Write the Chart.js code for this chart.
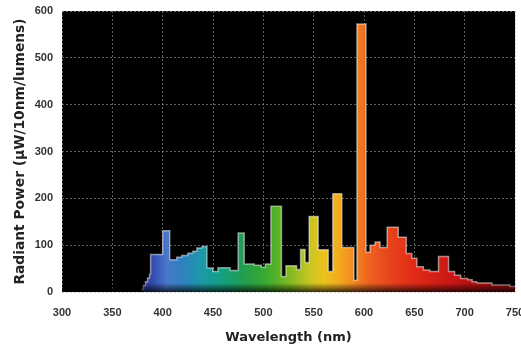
<!DOCTYPE html>
<html><head><meta charset="utf-8">
<script src="https://cdn.jsdelivr.net/npm/chart.js@4.4.1/dist/chart.umd.min.js"></script>
<style>html,body{margin:0;padding:0;background:#fff;}canvas{display:block;}</style>
</head><body>
<canvas id="c" width="521" height="345"></canvas>
<script>
// Step start wavelengths (nm) and radiant power for each step
const wavelengths = [379,381,383,385,387,388,400,407,414,419,425,430,434,439,444,450,455,467,475,481,491,498,502,507.5,518,522.5,533,537,541.5,545.5,554.5,564.5,569,578,590,593,602,606,611,616,623,634,642,647.5,652.5,659,665.5,674,684,690,696,703,707.5,712,727,745,750];
const power       = [6,14,22,30,38,80,131,69,74,78,83,87,94,97,51,44,52,46,126,60,57,53,60,183,33,56,48,91,63,161,90,44,210,95,25,572,85,100,107,95,138,117,82,72,54,47,44,76,44,36,29,26,22,19,15,12,12];
const xTicks = [300,350,400,450,500,550,600,650,700,750];
const yTicks = [0,100,200,300,400,500,600];

const spectrumStops = [[378,'#2b2f8c'],[392,'#3550b4'],[404,'#4a78c9'],[420,'#2e82c0'],[440,'#1c9aa6'],[460,'#13a07e'],[480,'#229e50'],[500,'#36a832'],[515,'#5cb226'],[530,'#8fbc22'],[545,'#c4c622'],[560,'#ecc21e'],[575,'#f3aa1e'],[590,'#f2881f'],[605,'#ef6220'],[625,'#e8441c'],[650,'#e02a16'],[690,'#c81414'],[750,'#8a0c0c']];

const bgPlugin = {
  id: 'bg',
  beforeDraw(chart) {
    const {ctx, chartArea: a} = chart;
    ctx.save(); ctx.fillStyle = '#000';
    ctx.fillRect(a.left, a.top, a.right - a.left, a.bottom - a.top);
    ctx.restore();
  },
  afterDatasetsDraw(chart) {
    const {ctx, chartArea: a} = chart;
    const g = ctx.createLinearGradient(0, a.bottom - 9, 0, a.bottom);
    g.addColorStop(0, 'rgba(0,0,0,0)'); g.addColorStop(1, 'rgba(0,0,0,0.75)');
    ctx.save(); ctx.fillStyle = g;
    ctx.fillRect(a.left, a.bottom - 9, a.right - a.left, 9);
    ctx.restore();
  }
};

const tickFont = {family: 'Liberation Sans', weight: 'bold', size: 11};
new Chart(document.getElementById('c'), {
  type: 'line',
  data: { datasets: [{
    data: wavelengths.map((w, i) => ({x: w, y: power[i]})),
    stepped: 'before', fill: 'origin', pointRadius: 0,
    borderColor: 'rgba(255,255,255,0.5)', borderWidth: 1.5,
    backgroundColor(context) {
      const chart = context.chart; const {ctx, chartArea, scales} = chart;
      if (!chartArea) return 'rgba(0,0,0,0)';
      const x0 = scales.x.getPixelForValue(300), x1 = scales.x.getPixelForValue(750);
      const g = ctx.createLinearGradient(x0, 0, x1, 0);
      spectrumStops.forEach(([w, c]) => g.addColorStop((w - 300) / 450, c));
      return g;
    }
  }]},
  options: {
    responsive: false, animation: false,
    layout: {padding: {left: 12, right: 6, top: 11, bottom: 0}},
    plugins: {legend: {display: false}, tooltip: {enabled: false}},
    scales: {
      x: {
        type: 'linear', min: 300, max: 750,
        afterBuildTicks(s) { s.ticks = xTicks.map(v => ({value: v})); },
        afterFit(s) { s.height = 53; s.paddingLeft = 0; s.paddingRight = 0; },
        grid: {color: 'rgba(170,170,170,0.55)', drawTicks: false, lineWidth: 1},
        border: {display: false, dash: [2, 2]},
        ticks: {font: tickFont, color: '#333', padding: 14, maxRotation: 0, autoSkip: false},
        title: {display: true, text: 'Wavelength (nm)', color: '#222',
                font: {family: 'DejaVu Sans', weight: 'bold', size: 13}, padding: {top: 0, bottom: 0}}
      },
      y: {
        min: 0, max: 600,
        afterBuildTicks(s) { s.ticks = yTicks.map(v => ({value: v})); },
        afterFit(s) { s.width = 50; s.paddingTop = 0; s.paddingBottom = 0; },
        grid: {color: 'rgba(170,170,170,0.55)', drawTicks: false, lineWidth: 1},
        border: {display: false, dash: [2, 2]},
        ticks: {font: tickFont, color: '#333', padding: 9},
        title: {display: true, text: 'Radiant Power (µW/10nm/lumens)', color: '#222',
                font: {family: 'DejaVu Sans', weight: 'bold', size: 13.8}, padding: {top: 0, bottom: 0}}
      }
    }
  },
  plugins: [bgPlugin]
});
</script>
</body></html>
